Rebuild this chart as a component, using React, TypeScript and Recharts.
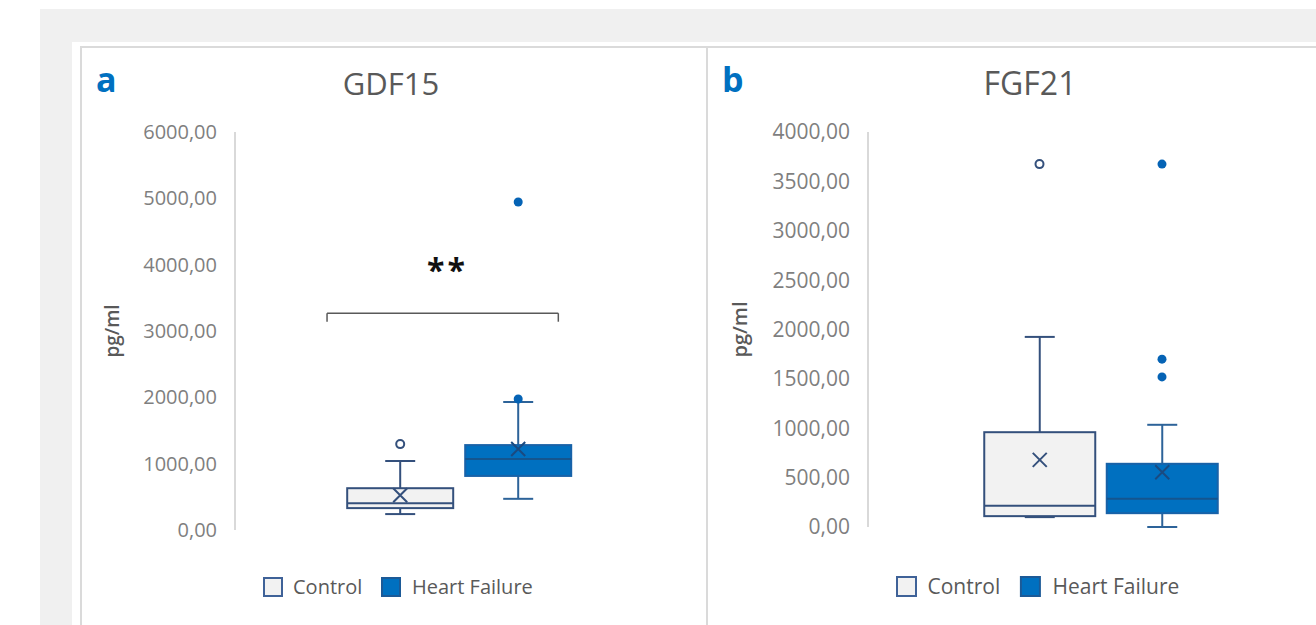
import React from "react";
import { ComposedChart, Bar, Scatter, XAxis, YAxis, ReferenceLine, ReferenceDot } from "recharts";

// groups shown side by side in each panel
const GROUPS = ["Control", "Heart Failure"];

// GDF15 (pg/ml): whiskers, quartiles, median and mean per group
const gdf15Min = [240, 470];
const gdf15Q1 = [330, 815];
const gdf15Median = [405, 1070];
const gdf15Q3 = [630, 1280];
const gdf15Max = [1040, 1930];
const gdf15Mean = [525, 1220];
const gdf15Outliers = [[1295], [1975, 4945]];
const gdf15Ticks = [0, 1000, 2000, 3000, 4000, 5000, 6000];

// FGF21 (pg/ml)
const fgf21Min = [100, 0];
const fgf21Q1 = [110, 140];
const fgf21Median = [215, 285];
const fgf21Q3 = [960, 640];
const fgf21Max = [1925, 1035];
const fgf21Mean = [680, 555];
const fgf21Outliers = [[3675], [3675, 1700, 1520]];
const fgf21Ticks = [0, 500, 1000, 1500, 2000, 2500, 3000, 3500, 4000];

// significance bracket between the GDF15 groups
const gdf15Bracket = { from: 0.78, to: 2.74, y: 3268, drop: 3140 };
const gdf15Stars = { text: "**", x: 1.8, y: 3915 };

// where the two boxes sit on the hidden 0..4 x axis
const SLOTS = [1.4, 2.4];

const AXIS_GREY = "#d9d9d9";
const TEXT_GREY = "#595959";
const TICK_GREY = "#7f7f7f";
const FONT = "'Open Sans', 'Noto Sans', sans-serif";

const GROUP_STYLE = [
  { fill: "#f2f2f2", stroke: "#34507c", whisker: "#34507c", median: "#34507c", mean: "#34507c", swatchStroke: "#3f6298" },
  { fill: "#0070c0", stroke: "#1862a8", whisker: "#2d6399", median: "#14558f", mean: "#1a4a80", swatchStroke: "#1c5a97" },
];

type BoxRow = {
  name: string;
  pos: number;
  range: [number, number];
  q1: number;
  median: number;
  q3: number;
  mean: number;
};

function buildRows(
  min: number[], q1: number[], median: number[], q3: number[], max: number[], mean: number[],
): BoxRow[] {
  return GROUPS.map((name, i) => ({
    name,
    pos: SLOTS[i],
    range: [min[i], max[i]],
    q1: q1[i],
    median: median[i],
    q3: q3[i],
    mean: mean[i],
  }));
}

function buildOutliers(values: number[][]) {
  return values.map((list, i) => list.map((value) => ({ pos: SLOTS[i], value })));
}

const fmt = (v: number) => v.toFixed(2).replace(".", ",");

// Bar spans min..max; everything else is placed on the same linear pixel mapping
const BoxShape = (props: any) => {
  const { x, y, width, height, payload } = props;
  if (!payload) return null;
  const st = GROUP_STYLE[Math.max(0, GROUPS.indexOf(payload.name))];
  const [lo, hi] = payload.range;
  const py = (v: number) => y + ((hi - v) / (hi - lo)) * height;
  const cx = x + width / 2;
  const cap = 15;
  const m = 7;
  const yTop = y;
  const yBottom = y + height;
  const yQ1 = py(payload.q1);
  const yQ3 = py(payload.q3);
  const yMed = py(payload.median);
  const yMean = py(payload.mean);
  return (
    <g>
      <line x1={cx} x2={cx} y1={yTop} y2={yQ3} stroke={st.whisker} strokeWidth={2} />
      <line x1={cx} x2={cx} y1={yQ1} y2={yBottom} stroke={st.whisker} strokeWidth={2} />
      <line x1={cx - cap} x2={cx + cap} y1={yTop} y2={yTop} stroke={st.whisker} strokeWidth={2} />
      <line x1={cx - cap} x2={cx + cap} y1={yBottom} y2={yBottom} stroke={st.whisker} strokeWidth={2} />
      <rect x={x} y={yQ3} width={width} height={yQ1 - yQ3} fill={st.fill} stroke={st.stroke} strokeWidth={2} />
      <line x1={x} x2={x + width} y1={yMed} y2={yMed} stroke={st.median} strokeWidth={2} />
      <path
        d={`M${cx - m},${yMean - m}L${cx + m},${yMean + m}M${cx + m},${yMean - m}L${cx - m},${yMean + m}`}
        stroke={st.mean}
        strokeWidth={2}
        fill="none"
      />
    </g>
  );
};

const HollowDot = (p: any) => (
  <circle cx={p.cx} cy={p.cy} r={4} fill="#fff" stroke={GROUP_STYLE[0].stroke} strokeWidth={2} />
);
const SolidDot = (p: any) => <circle cx={p.cx} cy={p.cy} r={4.5} fill="#0563b5" />;

const makeAxisTitle = (fontSize: number) => (props: any) => {
  const vb = props.viewBox;
  const cx = vb.x + 32;
  const cy = vb.y + vb.height / 2;
  return (
    <text
      x={cx}
      y={cy}
      transform={`rotate(-90, ${cx}, ${cy})`}
      textAnchor="middle"
      dominantBaseline="central"
      fill={TEXT_GREY}
      fontSize={fontSize}
      fontWeight={600}
    >
      pg/ml
    </text>
  );
};

type PanelProps = {
  width: number;
  yAxisWidth: number;
  bottom: number;
  boxWidth: number;
  fontSize: number;
  rows: BoxRow[];
  outliers: { pos: number; value: number }[][];
  ticks: number[];
  children?: React.ReactNode;
};

const BoxPanel: React.FC<PanelProps> = ({ width, yAxisWidth, bottom, boxWidth, fontSize, rows, outliers, ticks, children }) => (
  <ComposedChart width={width} height={578} data={rows} margin={{ top: 85, right: 0, bottom, left: 0 }}>
    <XAxis dataKey="pos" type="number" domain={[0, 4]} hide />
    <YAxis
      type="number"
      width={yAxisWidth}
      domain={[ticks[0], ticks[ticks.length - 1]]}
      ticks={ticks}
      interval={0}
      tickFormatter={fmt}
      tickLine={false}
      tickSize={0}
      tickMargin={18}
      axisLine={{ stroke: AXIS_GREY, strokeWidth: 2 }}
      tick={{ fill: TICK_GREY, fontSize }}
      label={makeAxisTitle(fontSize - 1)}
    />
    <Bar dataKey="range" barSize={boxWidth} shape={BoxShape} isAnimationActive={false} />
    <Scatter data={outliers[0]} dataKey="value" shape={HollowDot} isAnimationActive={false} />
    <Scatter data={outliers[1]} dataKey="value" shape={SolidDot} isAnimationActive={false} />
    {children}
  </ComposedChart>
);

// legend: swatch, name, swatch, name; k scales the whole row
const LegendRow: React.FC<{ x: number; y: number; k: number }> = ({ x, y, k }) => {
  const s = 20 * k;
  return (
    <g>
      <rect x={x + 1} y={y + 1} width={s - 2} height={s - 2} fill={GROUP_STYLE[0].fill} stroke={GROUP_STYLE[0].swatchStroke} strokeWidth={2} />
      <text x={x + 30 * k} y={y + 17 * k} fontSize={20 * k} fill={TEXT_GREY}>{GROUPS[0]}</text>
      <rect x={x + 118 * k + 1} y={y + 1} width={s - 2} height={s - 2} fill={GROUP_STYLE[1].fill} stroke={GROUP_STYLE[1].swatchStroke} strokeWidth={2} />
      <text x={x + 149 * k} y={y + 17 * k} fontSize={20 * k} fill={TEXT_GREY}>{GROUPS[1]}</text>
    </g>
  );
};

export default function App() {
  const gdfRows = buildRows(gdf15Min, gdf15Q1, gdf15Median, gdf15Q3, gdf15Max, gdf15Mean);
  const fgfRows = buildRows(fgf21Min, fgf21Q1, fgf21Median, fgf21Q3, fgf21Max, fgf21Mean);
  const b = gdf15Bracket;
  const bracketStroke = { stroke: "#595959", strokeWidth: 1.5 };

  return (
    <div style={{ position: "absolute", left: 0, top: 0, width: 1316, height: 625, overflow: "hidden", background: "#fff", fontFamily: FONT }}>
      <div style={{ position: "absolute", left: 40, top: 9, right: 0, bottom: 0, background: "#f0f0f0" }} />
      <div style={{ position: "absolute", left: 72, top: 42, width: 1300, height: 620, background: "#fff" }} />
      <div style={{ position: "absolute", left: 80, top: 46, width: 1300, height: 620, borderTop: "2px solid #dadada", borderLeft: "2px solid #dadada" }} />
      <div style={{ position: "absolute", left: 706, top: 46, width: 2, height: 620, background: "#dadada" }} />

      <div style={{ position: "absolute", left: 80, top: 47 }}>
        <BoxPanel width={627} yAxisWidth={155} bottom={95} boxWidth={106} fontSize={20} rows={gdfRows} outliers={buildOutliers(gdf15Outliers)} ticks={gdf15Ticks}>
          <ReferenceLine segment={[{ x: b.from, y: b.y }, { x: b.to, y: b.y }]} {...bracketStroke} />
          <ReferenceLine segment={[{ x: b.from, y: b.y }, { x: b.from, y: b.drop }]} {...bracketStroke} />
          <ReferenceLine segment={[{ x: b.to, y: b.y }, { x: b.to, y: b.drop }]} {...bracketStroke} />
          <ReferenceDot
            x={gdf15Stars.x}
            y={gdf15Stars.y}
            r={0}
            fill="none"
            stroke="none"
            label={{ value: gdf15Stars.text, position: "center", fill: "#111", fontSize: 32, fontWeight: 700, letterSpacing: 3 }}
          />
        </BoxPanel>
      </div>

      <div style={{ position: "absolute", left: 707, top: 47 }}>
        <BoxPanel width={651} yAxisWidth={161} bottom={98} boxWidth={111} fontSize={21} rows={fgfRows} outliers={buildOutliers(fgf21Outliers)} ticks={fgf21Ticks} />
      </div>

      <svg width={1316} height={625} style={{ position: "absolute", left: 0, top: 0, pointerEvents: "none" }}>
        <text x={96} y={92} fontSize={34} fontWeight={700} fill="#0070c0">a</text>
        <text x={722} y={92} fontSize={34} fontWeight={700} fill="#0070c0">b</text>
        <text x={391} y={95} fontSize={31} fill={TEXT_GREY} textAnchor="middle">GDF15</text>
        <text x={1030} y={95} fontSize={32} fill={TEXT_GREY} textAnchor="middle">FGF21</text>
        <LegendRow x={263} y={577} k={1} />
        <LegendRow x={896} y={576} k={1.05} />
      </svg>
    </div>
  );
}
